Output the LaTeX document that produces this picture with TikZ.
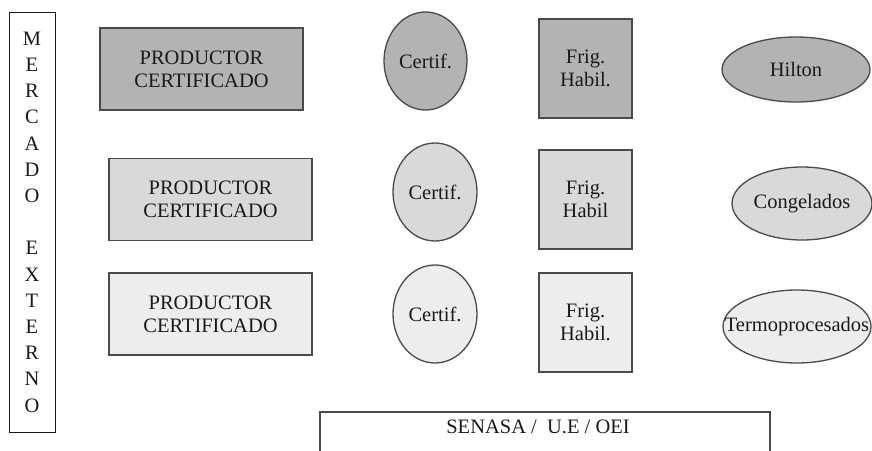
\documentclass[tikz,border=0pt]{standalone}
\usepackage{fontspec}
\setmainfont{Liberation Serif}
\usetikzlibrary{shapes.geometric}
\definecolor{fdark}{HTML}{B3B3B3}
\definecolor{fmid}{HTML}{D9D9D9}
\definecolor{flight}{HTML}{EDEDED}
\definecolor{edge}{HTML}{4A4A4A}
\definecolor{ink}{HTML}{1A1A1A}
\tikzset{
  every node/.style={text=ink, font=\fontsize{20.5}{23}\selectfont, inner sep=0pt},
  boxline/.style={draw=edge, line width=1.3pt},
  prodbox/.style={boxline, rectangle, minimum width=203pt, minimum height=82pt, align=center},
  frigbox/.style={boxline, rectangle, minimum width=93pt, minimum height=99pt, align=center},
  certell/.style={boxline, ellipse, minimum width=84pt, minimum height=98pt},
  mktell/.style={boxline, ellipse},
}
\begin{document}
\begin{tikzpicture}[x=1pt,y=-1pt]
\clip (0,0) rectangle (872,450);
\fill[white] (0,0) rectangle (872,450);
% left vertical box
\node[draw=ink, line width=1pt, rectangle, minimum width=46pt, minimum height=420pt,
  align=center, font=\fontsize{20.5}{26.2}\selectfont] (mercado) at (32,222)
  {M\\E\\R\\C\\A\\D\\O\\[26.2pt]E\\X\\T\\E\\R\\N\\O};
% producer boxes
\node[prodbox, fill=fdark] (prod1) at (201.5,69) {PRODUCTOR\\CERTIFICADO};
\node[prodbox, fill=fmid] (prod2) at (210.5,199.5) {PRODUCTOR\\CERTIFICADO};
\node[prodbox, fill=flight] (prod3) at (210.5,314) {PRODUCTOR\\CERTIFICADO};
% certif ellipses
\node[certell, fill=fdark, minimum width=83pt] (cert1) at (425.5,61) {Certif.};
\node[certell, fill=fmid] (cert2) at (435,192) {Certif.};
\node[certell, fill=flight] (cert3) at (435,314) {Certif.};
% frig boxes
\node[frigbox, fill=fdark] (frig1) at (585.5,68.5) {Frig.\\Habil.};
\node[frigbox, fill=fmid] (frig2) at (585.5,199.5) {Frig.\\Habil};
\node[frigbox, fill=flight] (frig3) at (585.5,322.5) {Frig.\\Habil.};
% market ellipses
\node[mktell, fill=fdark, minimum width=148pt, minimum height=65pt] (hilton) at (796,69.5) {Hilton};
\node[mktell, fill=fmid, minimum width=140pt, minimum height=73pt] (cong) at (802,203.5) {Congelados};
\node[mktell, fill=flight, minimum width=148pt, minimum height=73pt] (termo) at (797,326.5) {\makebox[0pt]{Termoprocesados}};
% senasa box (bottom cut off)
\draw[boxline] (320,470) |- (770,412) -- (770,470);
\node (senasa) at (538,427) {SENASA /\ \ U.E / OEI};
\end{tikzpicture}
\end{document}
